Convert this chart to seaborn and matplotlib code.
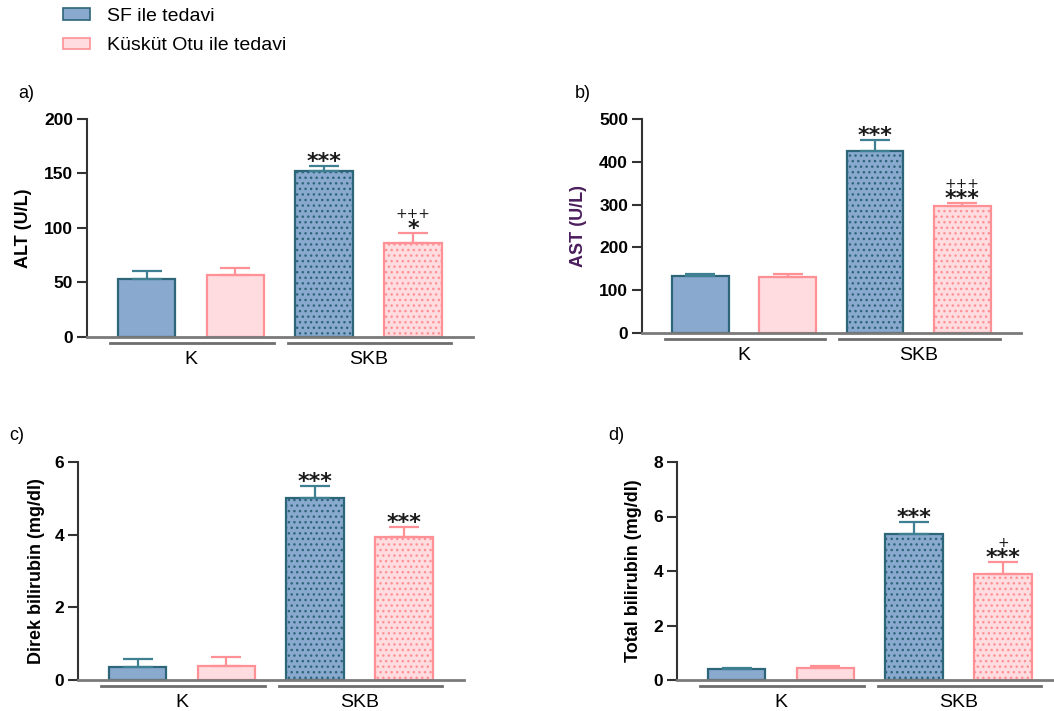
import matplotlib
matplotlib.use("Agg")
import matplotlib.pyplot as plt
import matplotlib.transforms as mtransforms
from matplotlib.patches import Patch
import pandas as pd
import seaborn as sns

groups = ["K", "SKB"]
treatments = ["SF ile tedavi", "Küsküt Otu ile tedavi"]

# means and upper SEM for each panel, order: K, SKB
alt_sf = [53, 152]
alt_sf_err = [8, 5]
alt_ko = [57, 86]
alt_ko_err = [6, 9]

ast_sf = [133, 426]
ast_sf_err = [6, 26]
ast_ko = [131, 297]
ast_ko_err = [8, 6]

dbil_sf = [0.35, 5.02]
dbil_sf_err = [0.22, 0.31]
dbil_ko = [0.38, 3.93]
dbil_ko_err = [0.25, 0.29]

tbil_sf = [0.40, 5.35]
tbil_sf_err = [0.04, 0.45]
tbil_ko = [0.45, 3.90]
tbil_ko_err = [0.07, 0.42]

# significance marks: (stars, plus) per bar
alt_sf_sig = [("", ""), ("***", "")]
alt_ko_sig = [("", ""), ("*", "+++")]
ast_sf_sig = [("", ""), ("***", "")]
ast_ko_sig = [("", ""), ("***", "+++")]
dbil_sf_sig = [("", ""), ("***", "")]
dbil_ko_sig = [("", ""), ("***", "")]
tbil_sf_sig = [("", ""), ("***", "")]
tbil_ko_sig = [("", ""), ("***", "+")]

fills = ["#8aa9cf", "#ffdcdf"]
edges = ["#2d6579", "#ff9196"]
caps = ["#3f7f92", "#ff9196"]

plt.rcParams['font.family'] = ['Liberation Sans', 'DejaVu Sans']
plt.rcParams['hatch.linewidth'] = 1.0

fig = plt.figure(figsize=(10.54, 7.11), dpi=100)
W, H = 1054, 711


def make_ax(left, top, width, height):
    return fig.add_axes([left / W, (H - top - height) / H, width / W, height / H])


def panel(ax, sf, sf_err, ko, ko_err, sf_sig, ko_sig, ymax, step, ylabel,
          label_color="black", label_x=-0.145):
    df = pd.DataFrame({
        "grup": groups * 2,
        "tedavi": [treatments[0]] * 2 + [treatments[1]] * 2,
        "deger": sf + ko,
    })
    sns.barplot(data=df, x="grup", y="deger", hue="tedavi", order=groups,
                hue_order=treatments, palette=fills, saturation=1,
                width=1.0, gap=0.35, errorbar=None, legend=False, ax=ax)
    errs = [sf_err, ko_err]
    sigs = [sf_sig, ko_sig]
    bar_conts = list(ax.containers)[:2]
    for i, cont in enumerate(bar_conts):
        for j, bar in enumerate(cont):
            bar.set_edgecolor(edges[i])
            bar.set_linewidth(1.6)
            if groups[j] == "SKB":
                bar.set_hatch("...")
            xc = bar.get_x() + bar.get_width() / 2
            h = bar.get_height()
            ax.errorbar(xc, h, yerr=[[0], [errs[i][j]]], fmt="none",
                        ecolor=caps[i], elinewidth=1.6, capsize=11,
                        capthick=1.6, zorder=1)
            top = h + errs[i][j]
            stars, plus = sigs[i][j]
            if stars:
                ax.annotate(stars, (xc, top), xytext=(0, -2),
                            textcoords="offset pixels", ha="center",
                            va="baseline", fontsize=16, color="#1a1a1a",
                            fontweight="bold", family="DejaVu Sans")
            if plus:
                ax.annotate(plus, (xc, top), xytext=(0, 15),
                            textcoords="offset pixels", ha="center",
                            va="baseline", fontsize=10, color="#1a1a1a",
                            family="DejaVu Sans")
    ax.set_xlim(-0.585, 1.587)
    ax.set_ylim(0, ymax)
    ax.set_yticks(range(0, ymax + 1, step))
    ax.set_xlabel("")
    ax.set_ylabel(ylabel, fontsize=13, fontweight="bold", color=label_color)
    ax.yaxis.set_label_coords(label_x, 0.5)
    sns.despine(ax=ax)
    ax.spines["left"].set_color("#333333")
    ax.spines["left"].set_linewidth(1.5)
    ax.spines["bottom"].set_color("#7a7a7a")
    ax.spines["bottom"].set_linewidth(2)
    ax.spines["bottom"].set_zorder(5)
    ax.tick_params(axis="y", length=7, width=1.5, color="#333333",
                   labelsize=12.5, pad=3)
    for t in ax.get_yticklabels():
        t.set_fontweight("bold")
    ax.tick_params(axis="x", length=0, labelsize=14, pad=10)
    trans = mtransforms.blended_transform_factory(ax.transData, ax.transAxes)
    for k in range(len(groups)):
        ax.plot([k - 0.455, k + 0.465], [-0.028, -0.028], color="#6e6e6e",
                lw=2, transform=trans, clip_on=False)


ax_a = make_ax(87, 119, 386, 218)
panel(ax_a, alt_sf, alt_sf_err, alt_ko, alt_ko_err, alt_sf_sig, alt_ko_sig,
      200, 50, "ALT (U/L)", label_x=-0.142)

ax_b = make_ax(642, 119, 379, 214)
panel(ax_b, ast_sf, ast_sf_err, ast_ko, ast_ko_err, ast_sf_sig, ast_ko_sig,
      500, 100, "AST (U/L)", label_color="#4a1d5c", label_x=-0.145)

ax_c = make_ax(78, 462, 386, 218)
panel(ax_c, dbil_sf, dbil_sf_err, dbil_ko, dbil_ko_err, dbil_sf_sig,
      dbil_ko_sig, 6, 2, "Direk bilirubin (mg/dl)", label_x=-0.0855)

ax_d = make_ax(677, 462, 386, 218)
panel(ax_d, tbil_sf, tbil_sf_err, tbil_ko, tbil_ko_err, tbil_sf_sig,
      tbil_ko_sig, 8, 2, "Total bilirubin (mg/dl)", label_x=-0.091)

for lab, x, y in [("a)", 26, 93), ("b)", 583, 93), ("c)", 17, 435), ("d)", 616, 435)]:
    fig.text(x / W, 1 - y / H, lab, fontsize=13, ha="center", va="center")

handles = [Patch(facecolor=fills[i], edgecolor=edges[i], linewidth=1.2)
           for i in range(2)]
fig.legend(handles, treatments, loc="upper left",
           bbox_to_anchor=(49 / W, 1 + 6 / H), frameon=False, fontsize=14,
           handlelength=1.4, handleheight=0.55, handletextpad=0.9,
           labelspacing=0.65, borderpad=0.2)

fig.savefig("out.png", dpi=100)
